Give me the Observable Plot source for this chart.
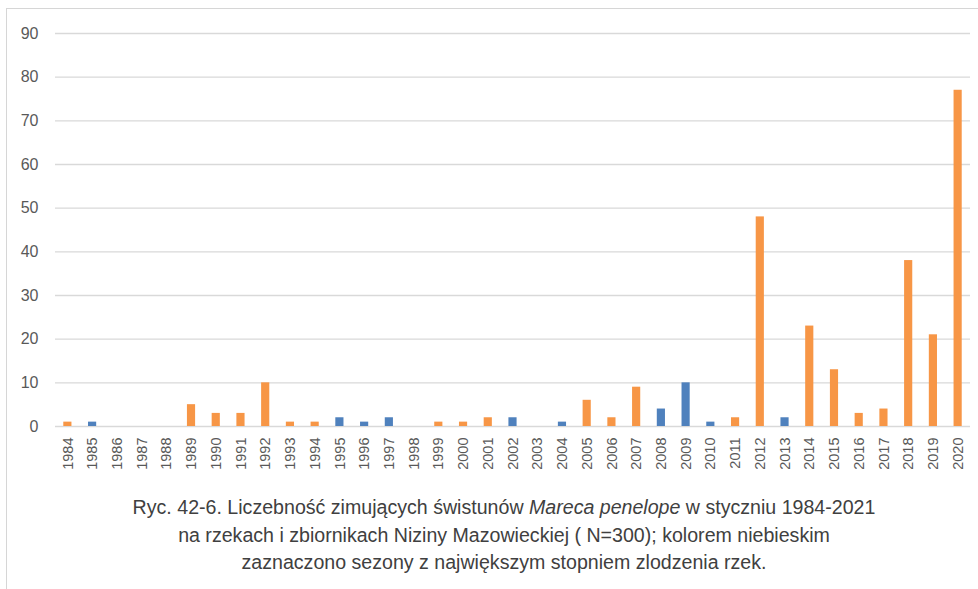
<!DOCTYPE html>
<html>
<head>
<meta charset="utf-8">
<script src="https://cdn.jsdelivr.net/npm/d3@7"></script>
<script src="https://cdn.jsdelivr.net/npm/@observablehq/plot@0.6"></script>
<style>
  html, body { margin: 0; padding: 0; background: #fff; }
  #wrap { position: relative; width: 978px; height: 589px; overflow: hidden; }
  #frame { position: absolute; left: 6px; top: 8px; width: 990px; height: 600px; border: 1px solid #d6d6d6; box-sizing: border-box; }
  #chart { position: absolute; left: 0; top: 0; }
  #caption { position: absolute; left: 30px; top: 494px; width: 948px; text-align: center;
    font-family: "Liberation Sans", Arial, sans-serif; font-size: 19.6px; line-height: 27.5px; color: #404040; }
</style>
</head>
<body>
<div id="wrap">
  <div id="frame"></div>
  <div id="chart"></div>
  <div id="caption">Ryc. 42-6. Liczebność zimujących świstunów <i>Mareca penelope</i> w styczniu 1984-2021<br>na rzekach i zbiornikach Niziny Mazowieckiej ( N=300); kolorem niebieskim<br>zaznaczono sezony z największym stopniem zlodzenia rzek.</div>
</div>
<script>
const years = ["1984","1985","1986","1987","1988","1989","1990","1991","1992","1993","1994","1995","1996","1997","1998","1999","2000","2001","2002","2003","2004","2005","2006","2007","2008","2009","2010","2011","2012","2013","2014","2015","2016","2017","2018","2019","2020"];
const counts = [1,1,0,0,0,5,3,3,10,1,1,2,1,2,0,1,1,2,2,0,1,6,2,9,4,10,1,2,48,2,23,13,3,4,38,21,77];
// 1 = season with the greatest river freezing (blue)
const icy = [0,1,0,0,0,0,0,0,0,0,0,1,1,1,0,0,0,0,1,0,1,0,0,0,1,1,1,0,0,1,0,0,0,0,0,0,0];
const yTicks = [0,10,20,30,40,50,60,70,80,90];

const data = years.map((y, i) => ({year: y, count: counts[i], group: icy[i] ? "icy" : "normal"}));

const chart = Plot.plot({
  width: 978,
  height: 478,
  marginTop: 33,
  marginBottom: 52,
  marginLeft: 55,
  marginRight: 8,
  style: {fontFamily: "Liberation Sans, Arial, sans-serif", fontSize: "15px", color: "#595959", background: "transparent"},
  x: {domain: years, paddingInner: 0.67, paddingOuter: 0.335, round: false, label: null},
  y: {domain: [0, 90], label: null},
  color: {domain: ["normal", "icy"], range: ["#F79646", "#4F81BD"]},
  marks: [
    Plot.ruleY(yTicks, {stroke: "#d9d9d9", strokeWidth: 1.3}),
    Plot.barY(data, {x: "year", y: "count", fill: "group"}),
    Plot.axisY(yTicks, {tickSize: 0, tickPadding: 17, fontSize: 16, label: null}),
    Plot.axisX(years, {tickSize: 0, tickPadding: 11, tickRotate: -90, fontSize: 14.5, label: null})
  ]
});
document.getElementById("chart").appendChild(chart);
</script>
</body>
</html>
